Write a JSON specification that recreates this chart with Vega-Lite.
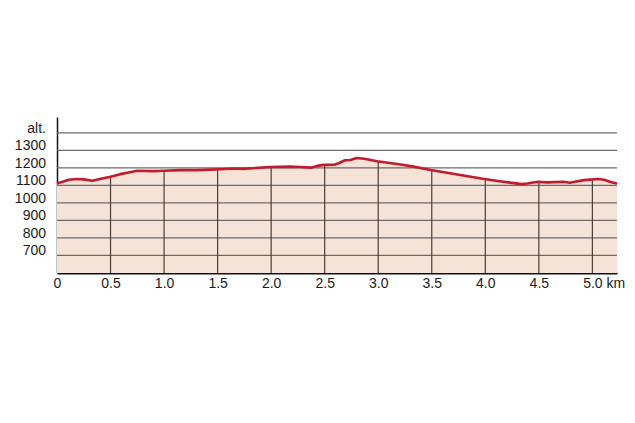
{
  "$schema": "https://vega.github.io/schema/vega-lite/v6.json",
  "autosize": "none",
  "padding": {"left": 57, "top": 117, "right": 18, "bottom": 150},
  "width": 560,
  "height": 156,
  "background": "white",
  "config": {
    "view": {"stroke": null},
    "font": "Liberation Sans",
    "axis": {"labelOverlap": false, "labelFont": "Liberation Sans", "labelFontSize": 14, "labelColor": "#1a1a1a"}
  },
  "datasets": {
    "profile": [
      {"km": 0, "elev": 1111}, {"km": 0.06, "elev": 1122}, {"km": 0.11, "elev": 1132},
      {"km": 0.19, "elev": 1136}, {"km": 0.25, "elev": 1134}, {"km": 0.33, "elev": 1126},
      {"km": 0.40, "elev": 1136}, {"km": 0.50, "elev": 1149}, {"km": 0.59, "elev": 1164},
      {"km": 0.68, "elev": 1175}, {"km": 0.75, "elev": 1183}, {"km": 0.90, "elev": 1181},
      {"km": 1.00, "elev": 1183}, {"km": 1.15, "elev": 1187}, {"km": 1.31, "elev": 1187},
      {"km": 1.43, "elev": 1190}, {"km": 1.53, "elev": 1192}, {"km": 1.65, "elev": 1196},
      {"km": 1.74, "elev": 1194}, {"km": 1.99, "elev": 1205}, {"km": 2.18, "elev": 1207},
      {"km": 2.27, "elev": 1205}, {"km": 2.37, "elev": 1201}, {"km": 2.43, "elev": 1211},
      {"km": 2.49, "elev": 1217}, {"km": 2.59, "elev": 1218}, {"km": 2.63, "elev": 1226},
      {"km": 2.69, "elev": 1243}, {"km": 2.74, "elev": 1245}, {"km": 2.80, "elev": 1256},
      {"km": 2.87, "elev": 1252}, {"km": 2.99, "elev": 1238}, {"km": 3.21, "elev": 1219},
      {"km": 3.33, "elev": 1207}, {"km": 3.49, "elev": 1188}, {"km": 3.99, "elev": 1136},
      {"km": 4.15, "elev": 1122}, {"km": 4.34, "elev": 1107}, {"km": 4.39, "elev": 1111},
      {"km": 4.49, "elev": 1121}, {"km": 4.58, "elev": 1117}, {"km": 4.73, "elev": 1121},
      {"km": 4.79, "elev": 1115}, {"km": 4.92, "elev": 1130}, {"km": 5.05, "elev": 1136},
      {"km": 5.11, "elev": 1132}, {"km": 5.17, "elev": 1119}, {"km": 5.23, "elev": 1111}
    ],
    "vgrid": [
      {"km": 0.5, "elev": 1149}, {"km": 1.0, "elev": 1183}, {"km": 1.5, "elev": 1191},
      {"km": 2.0, "elev": 1205}, {"km": 2.5, "elev": 1217}, {"km": 3.0, "elev": 1237},
      {"km": 3.5, "elev": 1187}, {"km": 4.0, "elev": 1135}, {"km": 4.5, "elev": 1120},
      {"km": 5.0, "elev": 1135}
    ],
    "hgrid": [
      {"elev": 700, "label": "700"}, {"elev": 800, "label": "800"}, {"elev": 900, "label": "900"},
      {"elev": 1000, "label": "1000"}, {"elev": 1100, "label": "1100"}, {"elev": 1200, "label": "1200"},
      {"elev": 1300, "label": "1300"}, {"elev": 1400, "label": "alt."}
    ],
    "unit": [{"km": 5.22, "elev": 600, "label": "km"}]
  },
  "layer": [
    {
      "data": {"name": "profile"},
      "mark": {"type": "area", "color": "#f5e3d8"},
      "encoding": {
        "x": {
          "field": "km", "type": "quantitative",
          "scale": {"domain": [0, 5.23], "nice": false, "zero": false},
          "axis": {
            "values": [0, 0.5, 1, 1.5, 2, 2.5, 3, 3.5, 4, 4.5, 5],
            "labelExpr": "datum.value == 0 ? '0' : format(datum.value, '.1f')",
            "title": null, "grid": false, "ticks": false, "tickSize": 0,
            "labelPadding": 3, "labelOverlap": false, "labelBound": false, "labelFlush": false,
            "domainColor": "#111", "domainWidth": 2
          }
        },
        "y": {
          "field": "elev", "type": "quantitative",
          "scale": {"domain": [600, 1490], "nice": false, "zero": false},
          "axis": {
            "values": [700, 800, 900, 1000, 1100, 1200, 1300, 1400],
            "title": null, "grid": false, "ticks": false, "tickSize": 0, "labels": false,
            "domainColor": "#111", "domainWidth": 1.5
          }
        },
        "y2": {"datum": 600}
      }
    },
    {
      "data": {"name": "hgrid"},
      "mark": {"type": "rule", "color": "#6e6a68", "strokeWidth": 1.2},
      "encoding": {
        "y": {"field": "elev", "type": "quantitative"},
        "x": {"datum": 0},
        "x2": {"datum": 5.23}
      }
    },
    {
      "data": {"name": "hgrid"},
      "mark": {"type": "text", "align": "right", "baseline": "middle", "dx": -11, "dy": -4, "fontSize": 14, "color": "#1a1a1a"},
      "encoding": {
        "y": {"field": "elev", "type": "quantitative"},
        "x": {"datum": 0},
        "text": {"field": "label"}
      }
    },
    {
      "data": {"name": "vgrid"},
      "mark": {"type": "rule", "color": "#4a3d38", "strokeWidth": 1.2},
      "encoding": {
        "x": {"field": "km", "type": "quantitative"},
        "y": {"field": "elev", "type": "quantitative"},
        "y2": {"datum": 600}
      }
    },
    {
      "data": {"name": "profile"},
      "mark": {"type": "line", "color": "#c41a2c", "strokeWidth": 2.6, "strokeJoin": "round"},
      "encoding": {
        "x": {"field": "km", "type": "quantitative"},
        "y": {"field": "elev", "type": "quantitative"}
      }
    },
    {
      "data": {"name": "unit"},
      "mark": {"type": "text", "baseline": "top", "dy": 4, "fontSize": 14, "color": "#1a1a1a"},
      "encoding": {
        "x": {"field": "km", "type": "quantitative"},
        "y": {"field": "elev", "type": "quantitative"},
        "text": {"field": "label"}
      }
    }
  ]
}
